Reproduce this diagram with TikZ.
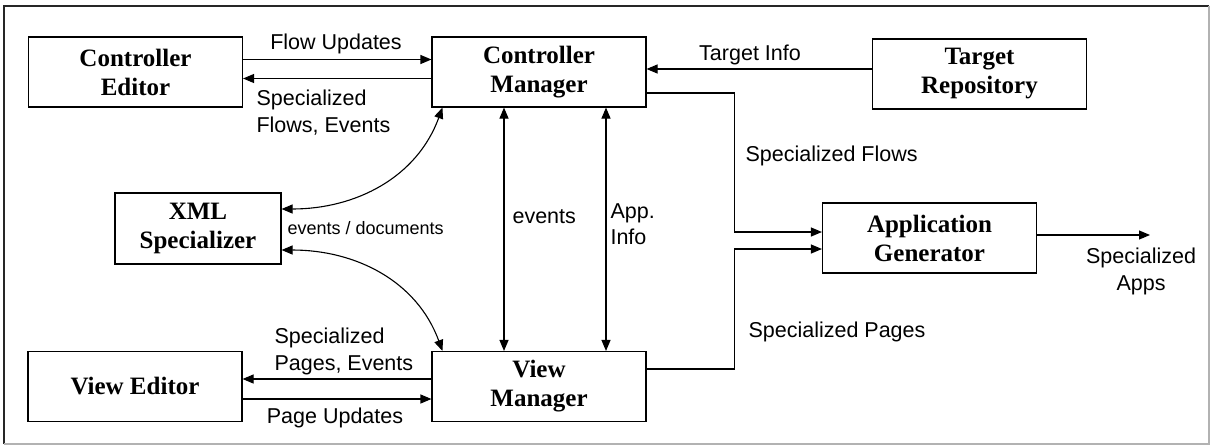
\documentclass[tikz,border=0pt]{standalone}
\usepackage{fontspec}
\setmainfont{Liberation Serif}
\setsansfont{Liberation Sans}
\usetikzlibrary{arrows.meta,positioning}

\begin{document}
\begin{tikzpicture}[x=1pt, y=1pt, on grid, line width=1.1pt,
	>={Triangle[length=11pt,width=9pt]},
	block/.style={draw, minimum width=214pt, minimum height=70pt, align=center,
		font=\bfseries\fontsize{25}{29}\selectfont},
	lbl/.style={inner sep=0pt, font=\sffamily\fontsize{21.5}{27}\selectfont}]
	\useasboundingbox (0,0) rectangle (1214,-445);
	\draw[black!85, line width=2pt] (4,-444) -- (4,-6) -- (1209,-6);
	\draw[black!30, line width=1.2pt] (4,-444) -- (1209,-444) -- (1209,-6);

	\node[block] (cm) at (539,-72) {Controller\\Manager};
	\node[block] (ce) [left=403.5pt of cm] {Controller\\Editor};
	\node[block] (tr) [right=440.5pt of cm, yshift=-2pt] {Target\\Repository};
	\node[block] (vm) [below=314.5pt of cm] {View\\Manager};
	\node[block] (ve) [left=404pt of vm] {View Editor};
	\node[block, minimum width=166pt, minimum height=71pt] (xml) at (198,-228.5) {XML\\Specializer};
	\node[block] (ag) at (929.5,-238) {Application\\Generator};
	\coordinate (apps) at (1150,-235);

	\draw[->] ([yshift=12.5pt]ce.east) coordinate (fu) -- (fu -| cm.west);
	\draw[<-] ([yshift=-6.5pt]ce.east) coordinate (sf) -- (sf -| cm.west);
	\draw[<-] ([yshift=3pt]cm.east) coordinate (ti) -- (ti -| tr.west);
	\draw[->] ([yshift=-21pt]cm.east) -- ++(88,0) |- ([yshift=6pt]ag.west);
	\draw[->] ([yshift=17.5pt]vm.east) -- ++(88,0) |- ([yshift=-11pt]ag.west);
	\draw[->] ([yshift=3pt]ag.east) -- (apps);
	\draw[<->] ([xshift=-35pt]cm.south) coordinate (ev) -- (ev |- vm.north);
	\draw[<->] ([xshift=67pt]cm.south) coordinate (ai) -- (ai |- vm.north);
	\draw[<->] ([yshift=19.5pt]xml.east) to[out=0, in=-110] ([xshift=11pt]cm.south west);
	\draw[<->] ([yshift=-21.5pt]xml.east) to[out=0, in=110] ([xshift=11pt]vm.north west);
	\draw[<-] ([yshift=7.5pt]ve.east) coordinate (sp) -- (sp -| vm.west);
	\draw[->] ([yshift=-12.5pt]ve.east) coordinate (pu) -- (pu -| vm.west);

	\node[lbl, anchor=base] (flowup) at (336,-49) {Flow Updates};
	\node[lbl, anchor=base west, align=left] (specflowsev) at (256,-132) {Specialized\\Flows, Events};
	\node[lbl, anchor=base] (targetinfo) at (750,-60) {Target Info};
	\node[lbl, anchor=base west] (specflows) at (745,-161) {Specialized Flows};
	\node[lbl, anchor=base west, font=\sffamily\fontsize{18}{22}\selectfont] (evdocs) at (287,-234) {events / documents};
	\node[lbl, anchor=base west] (events) at (512,-223) {events};
	\node[lbl, anchor=base west, align=left, font=\sffamily\fontsize{21.5}{26}\selectfont] (appinfo) at (610,-244) {App.\\Info};
	\node[lbl, anchor=base west] (specpages) at (748,-337) {Specialized Pages};
	\node[lbl, anchor=base, align=center] (specapps) at (1141,-290) {Specialized\\Apps};
	\node[lbl, anchor=base west, align=left] (specpagesev) at (274,-370) {Specialized\\Pages, Events};
	\node[lbl, anchor=base] (pageup) at (335,-423) {Page Updates};
\end{tikzpicture}
\end{document}
